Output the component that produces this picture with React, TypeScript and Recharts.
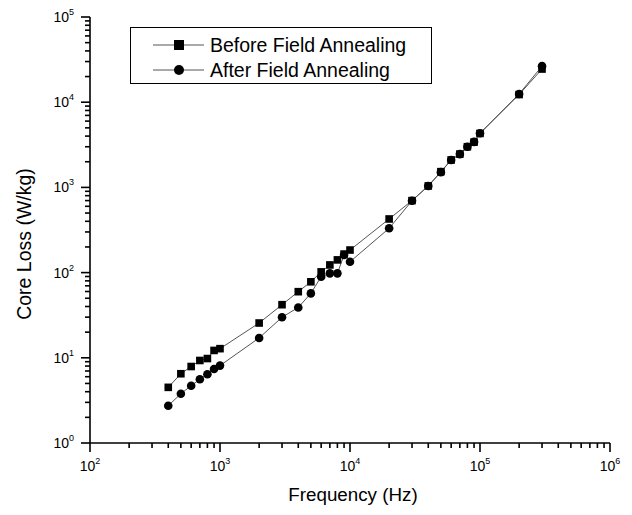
import React from "react";
import { LineChart, Line, XAxis, YAxis } from "recharts";

const freqs = [
  400, 500, 600, 700, 800, 900, 1000, 2000, 3000, 4000, 5000, 6000, 7000, 8000, 9000, 10000,
  20000, 30000, 40000, 50000, 60000, 70000, 80000, 90000, 100000, 200000, 300000,
];
const before = [
  4.5, 6.5, 7.9, 9.3, 9.8, 12.2, 12.8, 25.6, 42, 59.7, 78, 102, 123, 141, 165, 184,
  426, 700, 1040, 1530, 2100, 2460, 3000, 3400, 4300, 12300, 24500,
];
const after = [
  2.74, 3.79, 4.7, 5.6, 6.4, 7.4, 8.1, 17.1, 29.9, 39, 57, 89.5, 98, 98, 161, 134,
  331, 698, 1040, 1510, 2100, 2460, 3000, 3420, 4320, 12500, 26500,
];

const seriesNames = ["Before Field Annealing", "After Field Annealing"];

const logTicks = (lo: number, hi: number) => {
  const out: number[] = [];
  for (let e = lo; e < hi; e++) for (let m = 1; m < 10; m++) out.push(m * 10 ** e);
  out.push(10 ** hi);
  return out;
};
const xTicks = logTicks(2, 6);
const yTicks = logTicks(0, 5);

const data = freqs.map((f, i) => ({ f, before: before[i], after: after[i] }));

const FONT = "'Liberation Sans', Arial, sans-serif";

const isDecade = (v: number) => Math.abs(Math.log10(v) - Math.round(Math.log10(v))) < 1e-6;

// tick mark + label drawn together; y is the axis position (tickSize 0)
const XTick = (props: any) => {
  const { x, y, payload } = props;
  const v = payload.value;
  const major = isDecade(v);
  return (
    <g>
      <rect x={x - 0.8} y={y} width={1.6} height={major ? 9 : 5} fill="#000" />
      {major && (
        <text x={x} y={y + 28} textAnchor="middle" fontFamily={FONT} fontSize={14} fill="#000">
          10
          <tspan dy={-7} fontSize={9}>
            {Math.round(Math.log10(v))}
          </tspan>
        </text>
      )}
    </g>
  );
};

const YTick = (props: any) => {
  const { x, y, payload } = props;
  const v = payload.value;
  const major = isDecade(v);
  return (
    <g>
      <rect x={x - (major ? 9 : 5)} y={y - 0.8} width={major ? 9 : 5} height={1.6} fill="#000" />
      {major && (
        <text x={x - 16} y={y + 5} textAnchor="end" fontFamily={FONT} fontSize={14} fill="#000">
          10
          <tspan dy={-7} fontSize={9}>
            {Math.round(Math.log10(v))}
          </tspan>
        </text>
      )}
    </g>
  );
};

const SquareDot = (props: any) => {
  const { cx, cy } = props;
  if (cx == null || cy == null) return null;
  return <rect x={cx - 3.8} y={cy - 3.8} width={7.6} height={7.6} fill="#000" />;
};

const CircleDot = (props: any) => {
  const { cx, cy } = props;
  if (cx == null || cy == null) return null;
  return <circle cx={cx} cy={cy} r={4.3} fill="#000" />;
};

const LegendBox = () => (
  <div
    style={{
      position: "absolute",
      left: 130,
      top: 27,
      width: 302,
      height: 57,
      border: "1px solid #000",
      background: "#fff",
      fontFamily: FONT,
      fontSize: 19.5,
      boxSizing: "border-box",
    }}
  >
    {seriesNames.map((name, i) => (
      <div
        key={name}
        style={{ position: "absolute", left: 22, top: i === 0 ? 6 : 31, display: "flex", alignItems: "center", height: 22 }}
      >
        <svg width={51} height={12} style={{ marginRight: 6 }}>
          <line x1={0} x2={51} y1={6} y2={6} stroke="#555" strokeWidth={1} />
          {i === 0 ? <rect x={21} y={1} width={10} height={10} fill="#000" /> : <circle cx={26} cy={6} r={5} fill="#000" />}
        </svg>
        <span style={{ color: "#000", lineHeight: "22px" }}>{name}</span>
      </div>
    ))}
  </div>
);

export default function App() {
  return (
    <div style={{ position: "absolute", left: 0, top: 0, width: 632, height: 515, background: "#fff" }}>
      <LineChart width={632} height={515} data={data} margin={{ top: 17, right: 22, bottom: 42, left: 0 }}>
        <XAxis
          dataKey="f"
          type="number"
          scale="log"
          domain={[100, 1000000]}
          ticks={xTicks}
          interval={0}
          allowDataOverflow
          height={30}
          tickSize={0}
          tickMargin={0}
          tickLine={false}
          axisLine={{ stroke: "#000", strokeWidth: 1.6 }}
          tick={<XTick />}
          label={{
            content: () => (
              <text x={353} y={501} textAnchor="middle" fontFamily={FONT} fontSize={18.8} fill="#000">
                Frequency (Hz)
              </text>
            ),
          }}
        />
        <XAxis
          xAxisId="top"
          orientation="top"
          dataKey="f"
          type="number"
          scale="log"
          domain={[100, 1000000]}
          height={0}
          tick={false}
          tickLine={false}
          axisLine={{ stroke: "#000", strokeWidth: 1.6 }}
        />
        <YAxis
          type="number"
          scale="log"
          domain={[1, 100000]}
          ticks={yTicks}
          interval={0}
          allowDataOverflow
          width={90}
          tickSize={0}
          tickMargin={0}
          tickLine={false}
          axisLine={{ stroke: "#000", strokeWidth: 1.6 }}
          tick={<YTick />}
          label={{
            content: () => (
              <text
                x={24}
                y={244}
                transform="rotate(-90 24 244)"
                textAnchor="middle"
                dominantBaseline="central"
                fontFamily={FONT}
                fontSize={19.5}
                fill="#000"
              >
                Core Loss (W/kg)
              </text>
            ),
          }}
        />
        <YAxis
          yAxisId="right"
          orientation="right"
          type="number"
          scale="log"
          domain={[1, 100000]}
          width={0}
          tick={false}
          tickLine={false}
          axisLine={{ stroke: "#000", strokeWidth: 1.6 }}
        />
        <Line
          dataKey="before"
          stroke="#555"
          strokeWidth={1}
          dot={<SquareDot />}
          activeDot={false}
          isAnimationActive={false}
        />
        <Line
          dataKey="after"
          stroke="#555"
          strokeWidth={1}
          dot={<CircleDot />}
          activeDot={false}
          isAnimationActive={false}
        />
      </LineChart>
      <LegendBox />
    </div>
  );
}
